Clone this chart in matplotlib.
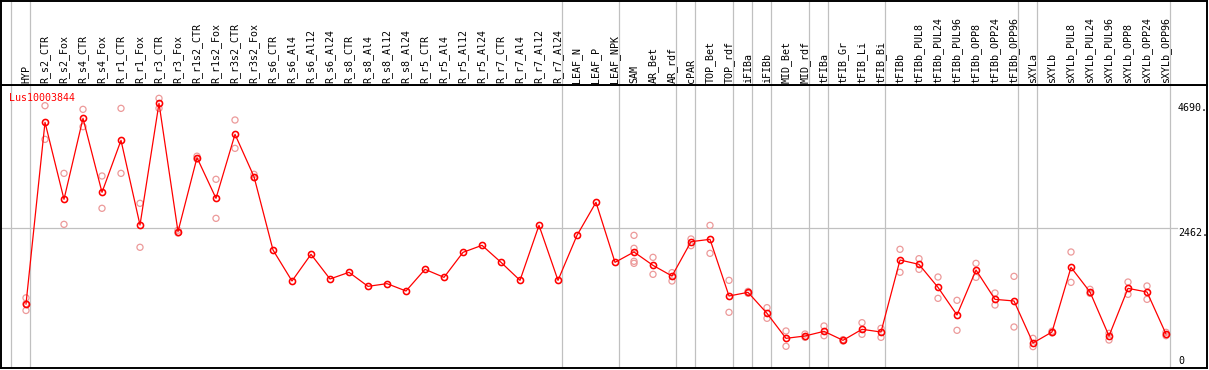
import matplotlib
matplotlib.use("Agg")
import matplotlib.pyplot as plt
from matplotlib.lines import Line2D

labels = ["HYP", "R_s2_CTR", "R_s2_Fox", "R_s4_CTR", "R_s4_Fox", "R_r1_CTR", "R_r1_Fox",
          "R_r3_CTR", "R_r3_Fox", "R_r1s2_CTR", "R_r1s2_Fox", "R_r3s2_CTR", "R_r3s2_Fox",
          "R_s6_CTR", "R_s6_Al4", "R_s6_Al12", "R_s6_Al24", "R_s8_CTR", "R_s8_Al4",
          "R_s8_Al12", "R_s8_Al24", "R_r5_CTR", "R_r5_Al4", "R_r5_Al12", "R_r5_Al24",
          "R_r7_CTR", "R_r7_Al4", "R_r7_Al12", "R_r7_Al24", "LEAF_N", "LEAF_P", "LEAF_NPK",
          "SAM", "AR_Bet", "AR_rdf", "cPAR", "TOP_Bet", "TOP_rdf", "iFIBa", "iFIBb",
          "MID_Bet", "MID_rdf", "tFIBa", "tFIB_Gr", "tFIB_Li", "tFIB_Bi", "tFIBb",
          "tFIBb_PUL8", "tFIBb_PUL24", "tFIBb_PUL96", "tFIBb_OPP8", "tFIBb_OPP24",
          "tFIBb_OPP96", "sXYLa", "sXYLb", "sXYLb_PUL8", "sXYLb_PUL24", "sXYLb_PUL96",
          "sXYLb_OPP8", "sXYLb_OPP24", "sXYLb_OPP96"]

means = [1105, 4344, 2971, 4415, 3096, 4023, 2513, 4683, 2395, 3714, 2989, 4130, 3375,
         2068, 1515, 1991, 1551, 1670, 1420, 1468, 1337, 1723, 1580, 2026, 2151, 1848,
         1527, 2507, 1527, 2329, 2918, 1848,
         2032, 1794, 1604, 2216, 2258, 1248, 1313, 939, 493, 535,
         618, 458, 654, 606, 1889, 1812, 1402, 909, 1711, 1188, 1159,
         410, 606, 1759, 1319, 535, 1384, 1319, 570]

replicates = [[1215, 1110, 990], [4640, 4040], [3434, 2525], [4575, 4266], [3387, 2811],
              [4593, 3434], [2900, 2116], [4771, 4593], [2420, 2370], [3740, 3690],
              [3328, 2632], [4385, 3880], [3417, 3357],
              [], [], [], [], [], [], [], [], [], [], [], [], [], [], [], [], [], [], [],
              [2329, 2098, 1866, 1830], [1937, 1634], [1664, 1515], [2264, 2145],
              [2507, 2008], [1527, 957], [1330, 1296], [1040, 850], [624, 351], [570, 511],
              [713, 540], [470, 446], [772, 565], [671, 511], [2080, 1670], [1913, 1723],
              [1586, 1206], [1171, 636], [1830, 1580], [1301, 1087], [1598, 695],
              [493, 345], [620, 590], [2032, 1491], [1367, 1295], [582, 463],
              [1497, 1277], [1426, 1188], [600, 540]]

group_starts = [0, 1, 29, 32, 35, 36, 38, 39, 40, 42, 43, 46, 53, 54, 61]
ytick_values = [4690, 2462, 0]
ytick_labels = ["4690.", "2462.", "0"]
gene_name = "Lus10003844"

W, H = 1209, 370
fig = plt.figure(figsize=(W / 100, H / 100), dpi=100)
font = "DejaVu Sans Mono"
fs = 7.2

x_left, x_right = 1, 1207
y_head, y_bot = 85, 368
ax = fig.add_axes([x_left / W, (H - y_bot) / H, (x_right - x_left) / W, (y_bot - y_head) / H])
hax = fig.add_axes([x_left / W, (H - y_head) / H, (x_right - x_left) / W, (y_head - 1) / H],
                   sharex=ax)

x0px, dx = 26, 19
ax.set_xlim((x_left - x0px) / dx, (x_right - x0px) / dx)
ax.set_ylim(-35.7, 5009)
hax.set_ylim(0, 1)

for a in (ax, hax):
    a.set_xticks([])
    a.set_yticks([])
    for s in a.spines.values():
        s.set_color("black")
        s.set_linewidth(1.4)
    for g in group_starts:
        a.axvline(g - 0.79, color="#C0C0C0", lw=0.9, zorder=0)

ax.axhline(ytick_values[1], xmin=0, xmax=(1177 - x_left) / (x_right - x_left),
           color="#C0C0C0", lw=0.9, zorder=0)

xs = list(range(len(labels)))
for i, reps in enumerate(replicates):
    if reps:
        ax.scatter([i] * len(reps), reps, s=4.4 ** 2, facecolors="none",
                   edgecolors="#EC9A9A", linewidths=0.9, zorder=2)

ax.plot(xs, means, color="red", lw=0.9, marker="o", ms=4.4, mfc="none",
        mec="red", mew=1.15, zorder=3)

for i, lab in enumerate(labels):
    hax.text(i, (y_head - 83) / (y_head - 1), lab, rotation=90, ha="center", va="bottom",
             fontsize=fs, family=font, color="black")

xlab = (1178 - x0px) / dx
for v, t in zip(ytick_values, ytick_labels):
    ax.text(xlab, v, t, ha="left", va="bottom" if v == 0 else "top",
            fontsize=fs, family=font, color="black")

ax.text((9 - x_left) / (x_right - x_left), (y_bot - 97.5) / (y_bot - y_head), gene_name,
        transform=ax.transAxes, ha="left", va="center", fontsize=fs, family=font, color="red")

fig.savefig("out.png", dpi=100, facecolor="white")
